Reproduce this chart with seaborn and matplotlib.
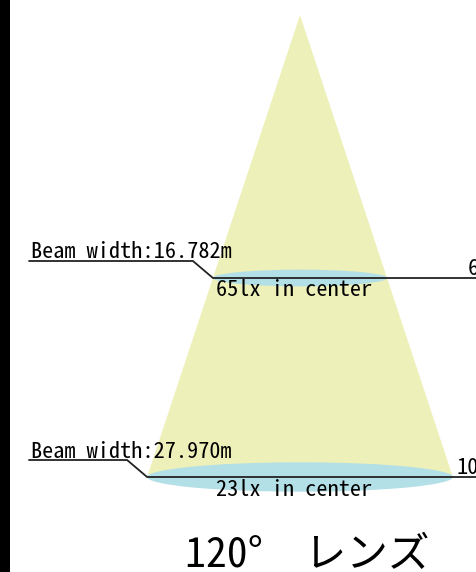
import matplotlib
matplotlib.use("Agg")
import matplotlib.pyplot as plt
from matplotlib.patches import Ellipse, Rectangle
import seaborn as sns

sns.set_theme(style="white")
plt.rcParams["font.family"] = ["Noto Sans Mono CJK JP", "Noto Sans CJK JP", "DejaVu Sans"]

# data
lens_angle = 120
distances_m = [6, 10]
beam_widths_m = [16.782, 27.970]
center_lux = [65, 23]

# layout on a pixel canvas
W, H = 477, 572
APEX_X, APEX_Y = 300, 15
CONE_SLOPE = 0.331          # half-width gained per pixel below apex
ELLIPSE_RATIO = 0.096       # ellipse height / width (perspective)
CONE_COLOR = "#eef0b9"
SPOT_COLOR = "#b3e0e6"
LINE_COLOR = "#222222"
LABEL_SIZE = 16


def dist_to_y(d):
    return -20.5 + 49.75 * d


fig = plt.figure(figsize=(W / 100, H / 100), dpi=100)
ax = fig.add_axes([0, 0, 1, 1])
ax.set_xlim(0, W)
ax.set_ylim(H, 0)
ax.axis("off")

# black strip on the left edge
ax.add_patch(Rectangle((0, 0), 10, H, color="black", lw=0))

# light cone down to the farthest plane
y_far = dist_to_y(max(distances_m))
half_far = (y_far - APEX_Y) * CONE_SLOPE
ax.fill([APEX_X, APEX_X - half_far, APEX_X + half_far],
        [APEX_Y, y_far, y_far], color=CONE_COLOR, lw=0, zorder=1)

for d, bw, lux in zip(distances_m, beam_widths_m, center_lux):
    y = dist_to_y(d)
    half = (y - APEX_Y) * CONE_SLOPE
    x_left = APEX_X - half
    ax.add_patch(Ellipse((APEX_X, y), 2 * half, 2 * half * ELLIPSE_RATIO,
                         color=SPOT_COLOR, lw=0, zorder=2))

    # leader: underline -> diagonal -> horizontal across the plane
    y_under = y - 17
    ax.plot([29, x_left - 20, x_left, W + 20], [y_under, y_under, y, y],
            color=LINE_COLOR, lw=1.3, zorder=3, clip_on=False,
            solid_joinstyle="miter")

    ax.text(31, y_under - 2.5, f"Beam width:{bw:.3f}m",
            fontsize=LABEL_SIZE, va="baseline", ha="left", color="black", zorder=4)
    ax.text(294, y + 18.5, f"{lux}lx in center",
            fontsize=LABEL_SIZE, va="baseline", ha="center", color="black", zorder=4)
    ax.text(490, y - 3, f"{d}m", fontsize=LABEL_SIZE,
            va="baseline", ha="right", color="black", zorder=4)

ax.text(307, 567, f"{lens_angle}°\u3000レンズ", fontsize=30,
        va="baseline", ha="center", color="black")

fig.savefig("out.png", dpi=100)
